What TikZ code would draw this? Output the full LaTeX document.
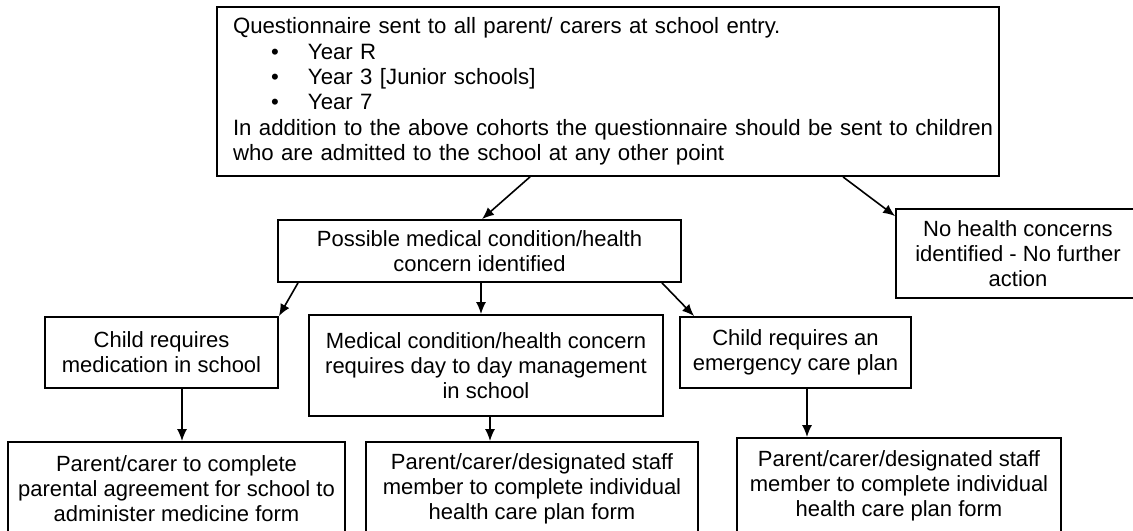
\documentclass[tikz,border=0pt]{standalone}
\usepackage{fontspec}
\setmainfont{Liberation Sans}
\usetikzlibrary{arrows.meta}
\begin{document}
\begin{tikzpicture}[x=0.5pt,y=-0.5pt,
  box/.style={draw=black, line width=0.9pt, align=center, inner sep=0pt,
    font=\fontsize{11}{12.5}\selectfont},
  arr/.style={draw=black, line width=0.8pt, -{Latex[length=6pt,width=5pt]}}]
\useasboundingbox (0,0) rectangle (1133,530);
\clip (0,0) rectangle (1133,530);
\fill[white] (0,0) rectangle (1133,530);

\node[box, minimum width=391pt, minimum height=84.5pt, text width=375pt, align=left,
  font=\fontsize{11.1}{12.65}\selectfont] (Q) at (608,91.5)
  {Questionnaire sent to all parent/ carers at school entry.\\
   \hspace*{19pt}\makebox[18.5pt][l]{\textbullet}Year R\\
   \hspace*{19pt}\makebox[18.5pt][l]{\textbullet}Year 3 [Junior schools]\\
   \hspace*{19pt}\makebox[18.5pt][l]{\textbullet}Year 7\\
   \mbox{In addition to the above cohorts the questionnaire should be sent to children}\\
   who are admitted to the school at any other point};

\node[box, minimum width=201.5pt, minimum height=31pt] (P) at (479.5,251)
  {Possible medical condition/health\\concern identified};
\node[box, minimum width=122pt, minimum height=44.5pt] (N) at (1018,253.5)
  {No health concerns\\identified - No further\\action};
\node[box, minimum width=116.5pt, minimum height=35.5pt] (M) at (161.5,352.5)
  {Child requires\\medication in school};
\node[box, minimum width=177pt, minimum height=50.5pt] (D) at (486,365.5)
  {Medical condition/health concern\\requires day to day management\\in school};
\node[box, minimum width=115.5pt, minimum height=35.5pt] (E) at (795.5,352.5)
  {Child requires an\\emergency care plan};
\node[box, minimum width=168.5pt, minimum height=47pt] (A) at (176.5,489)
  {Parent/carer to complete\\parental agreement for school to\\administer medicine form};
\node[box, minimum width=166pt, minimum height=47pt] (B) at (532,489)
  {Parent/carer/designated staff\\member to complete individual\\health care plan form};
\node[box, minimum width=162pt, minimum height=48pt] (C) at (899,486)
  {Parent/carer/designated staff\\member to complete individual\\health care plan form};

\draw[arr] ([xshift=-39pt]Q.south) -- ([xshift=1.25pt]P.north);
\draw[arr] ([xshift=117.5pt]Q.south) -- ([yshift=-4pt]N.north west);
\draw[arr] ([xshift=-90.75pt]P.south) -- (M.north east);
\draw[arr] ([xshift=0.75pt]P.south) -- ([xshift=-2.5pt]D.north);
\draw[arr] ([xshift=91.25pt]P.south) -- ([xshift=7.5pt]E.north west);
\draw[arr] ([xshift=10.25pt]M.south) -- ([xshift=2.75pt]A.north);
\draw[arr] ([xshift=2pt]D.south) -- ([xshift=-21pt]B.north);
\draw[arr] ([xshift=5.75pt]E.south) -- ([xshift=-46pt]C.north);
\end{tikzpicture}
\end{document}
